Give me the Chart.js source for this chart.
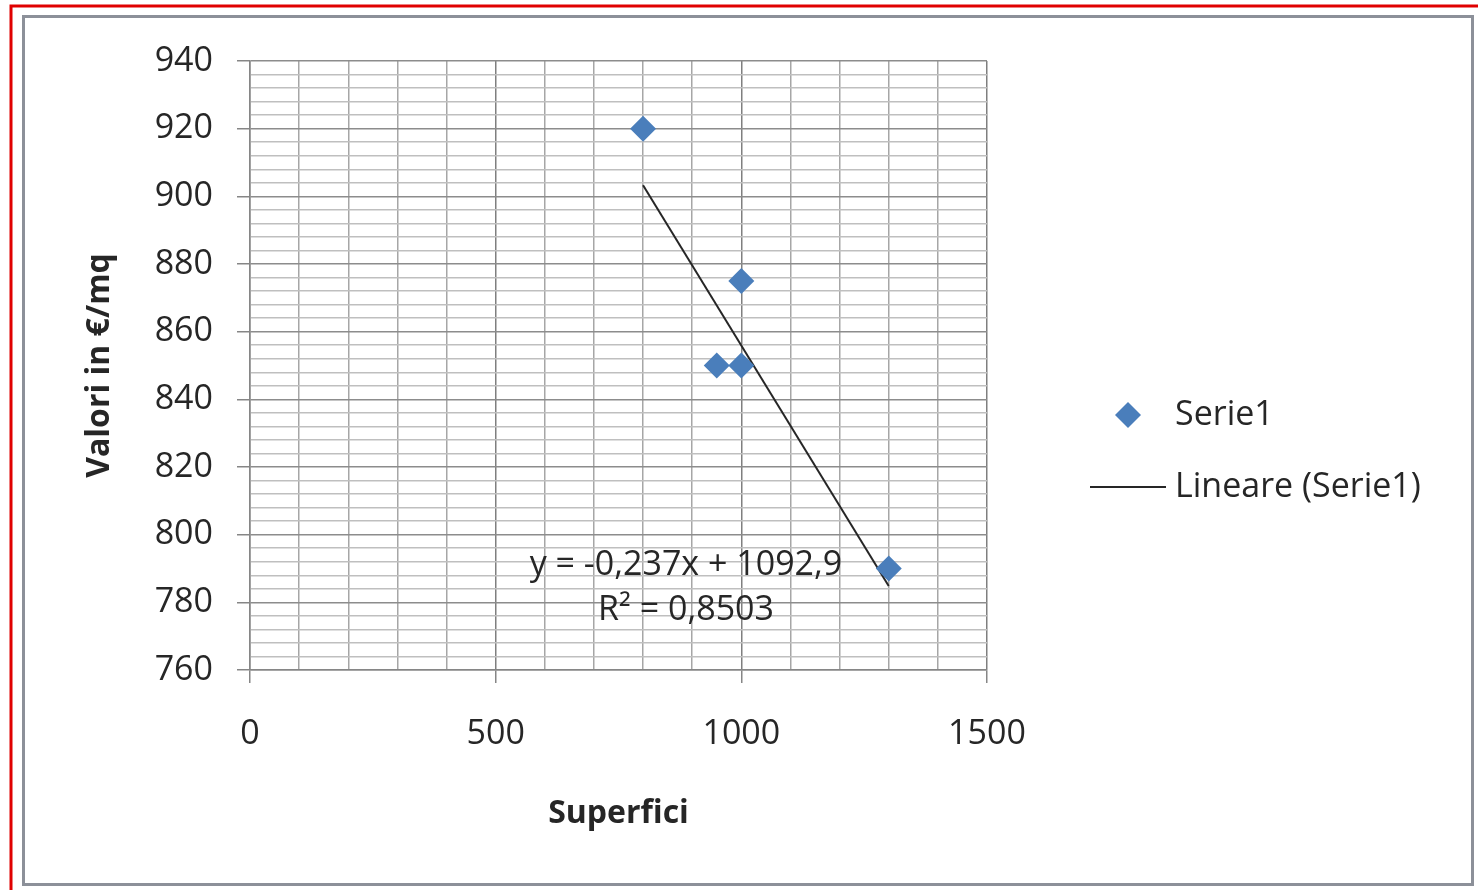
<!DOCTYPE html>
<html>
<head>
<meta charset="utf-8">
<script src="https://cdn.jsdelivr.net/npm/chart.js@4.4.1/dist/chart.umd.min.js"></script>
<style>
  html, body { margin: 0; padding: 0; background: #fff; }
</style>
</head>
<body>
<canvas id="grafico" width="1478" height="890"></canvas>
<script>
// dati: superficie (mq) e valore (€/mq)
const superfici = [800, 950, 1000, 1000, 1300];
const valori = [920, 850, 850, 875, 790];

// retta di tendenza lineare
const pendenza = -0.237;
const intercetta = 1092.9;
const erreQuadro = 0.8503;

const xEtichette = [0, 500, 1000, 1500];
const yEtichette = [760, 780, 800, 820, 840, 860, 880, 900, 920, 940];

const testo = '#262626';
const font = '"Open Sans", "Noto Sans", sans-serif';

const xMin = Math.min(...superfici);
const xMax = Math.max(...superfici);
const tendenza = [
    { x: xMin, y: pendenza * xMin + intercetta },
    { x: xMax, y: pendenza * xMax + intercetta }
];

const virgola = (n) => String(n).replace('.', ',');

// cornici, equazione e legenda
const decorazioni = {
    id: 'decorazioni',
    beforeDraw(chart) {
        const c = chart.ctx;
        c.save();
        c.fillStyle = '#fff';
        c.fillRect(0, 0, chart.width, chart.height);
        c.strokeStyle = '#e00000';
        c.lineWidth = 3;
        c.beginPath();
        c.moveTo(11, chart.height);
        c.lineTo(11, 6);
        c.lineTo(chart.width, 6);
        c.stroke();
        c.strokeStyle = '#8c9099';
        c.lineWidth = 3;
        c.strokeRect(23.5, 16.5, 1449, 868);
        c.restore();
    },
    afterDraw(chart) {
        const c = chart.ctx;
        c.save();
        c.fillStyle = testo;
        c.font = '34px ' + font;
        c.textAlign = 'center';
        c.textBaseline = 'middle';
        c.fillText('y = ' + virgola(pendenza) + 'x + ' + virgola(intercetta), 686, 565);
        c.fillText('R² = ' + virgola(erreQuadro), 686, 610);

        // legenda
        const ds = chart.data.datasets;
        c.textAlign = 'left';
        c.fillStyle = ds[0].backgroundColor;
        c.beginPath();
        c.moveTo(1128, 402);
        c.lineTo(1141, 415);
        c.lineTo(1128, 428);
        c.lineTo(1115, 415);
        c.closePath();
        c.fill();
        c.fillStyle = testo;
        c.fillText(ds[0].label, 1175, 415);

        c.strokeStyle = ds[1].borderColor;
        c.lineWidth = 2;
        c.beginPath();
        c.moveTo(1090, 487);
        c.lineTo(1166, 487);
        c.stroke();
        c.fillText(ds[1].label, 1175, 487);
        c.restore();
    }
};

new Chart(document.getElementById('grafico'), {
    type: 'scatter',
    data: {
        datasets: [
            {
                label: 'Serie1',
                data: superfici.map((x, i) => ({ x: x, y: valori[i] })),
                pointStyle: 'rectRot',
                radius: 13,
                hoverRadius: 13,
                backgroundColor: '#4a7ebb',
                borderColor: '#4a7ebb',
                borderWidth: 0
            },
            {
                label: 'Lineare (Serie1)',
                type: 'line',
                data: tendenza,
                borderColor: '#262626',
                borderWidth: 2,
                pointRadius: 0,
                fill: false
            }
        ]
    },
    options: {
        responsive: false,
        animation: false,
        layout: {
            padding: { top: 61, right: 491, bottom: 40, left: 0 }
        },
        scales: {
            x: {
                type: 'linear',
                position: 'bottom',
                min: 0,
                max: 1500,
                afterFit: (s) => { s.height = 180; },
                border: { color: '#868686', width: 1.5 },
                grid: {
                    color: (ctx) => ctx.tick && ctx.tick.value % 500 === 0 ? '#7f7f7f' : '#a6a6a6',
                    tickColor: (ctx) => ctx.tick && xEtichette.includes(ctx.tick.value) ? '#868686' : 'rgba(0,0,0,0)',
                    tickLength: 13,
                    lineWidth: 1.5
                },
                ticks: {
                    stepSize: 100,
                    autoSkip: false,
                    maxRotation: 0,
                    padding: 31,
                    color: testo,
                    font: { family: font, size: 34 },
                    callback: (v) => xEtichette.includes(v) ? String(v) : ''
                },
                title: {
                    display: true,
                    text: 'Superfici',
                    color: testo,
                    font: { family: font, size: 32, weight: 'bold' },
                    padding: { top: 0, bottom: 17 }
                }
            },
            y: {
                type: 'linear',
                min: 760,
                max: 940,
                afterFit: (s) => { s.width = 250; },
                border: { color: '#868686', width: 1.5 },
                grid: {
                    color: (ctx) => ctx.tick && ctx.tick.value % 20 === 0 ? '#8c8c8c' : '#bfbfbf',
                    tickColor: (ctx) => ctx.tick && yEtichette.includes(ctx.tick.value) ? '#868686' : 'rgba(0,0,0,0)',
                    tickLength: 13,
                    lineWidth: 1.5
                },
                ticks: {
                    stepSize: 4,
                    autoSkip: false,
                    padding: 24,
                    color: testo,
                    font: { family: font, size: 34 },
                    callback: (v) => yEtichette.includes(v) ? String(v) : ''
                },
                title: {
                    display: true,
                    text: 'Valori in €/mq',
                    color: testo,
                    font: { family: font, size: 32, weight: 'bold' },
                    padding: { top: 81, bottom: 0 }
                }
            }
        },
        plugins: {
            legend: { display: false },
            tooltip: { enabled: false }
        }
    },
    plugins: [decorazioni]
});
</script>
</body>
</html>
